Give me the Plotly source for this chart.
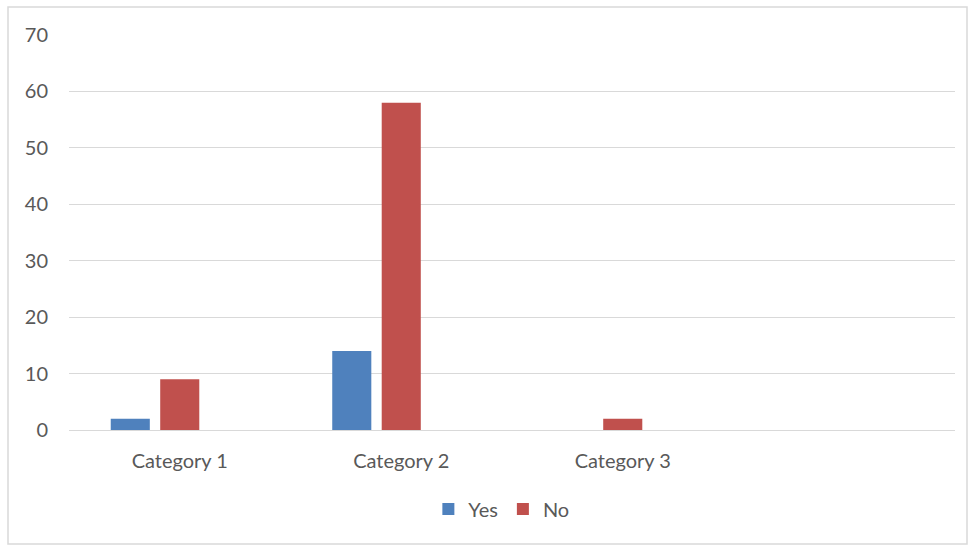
import plotly.graph_objects as go

categories = ["Category 1", "Category 2", "Category 3"]
yes_values = [2, 14, None]
no_values = [9, 58, 2]
hidden_values = [None, None, None]  # empty third series slot in the original
y_ticks = [0, 10, 20, 30, 40, 50, 60, 70]

W, H = 969, 546
L, R, T, B = 69, 14, 35, 116

font_family = "Lato, 'Open Sans', 'DejaVu Sans', sans-serif"
tick_color = "#595959"
grid_color = "#d9d9d9"

fig = go.Figure()
fig.add_trace(go.Bar(name="Yes", x=categories, y=yes_values, marker=dict(color="#4F81BD", line=dict(width=0))))
fig.add_trace(go.Bar(name="No", x=categories, y=no_values, marker=dict(color="#C0504D", line=dict(width=0))))
fig.add_trace(go.Bar(name="", x=categories, y=hidden_values, showlegend=False, marker=dict(color="rgba(0,0,0,0)")))

pw = W - L - R
ph = H - T - B

fig.update_layout(
    width=W, height=H,
    margin=dict(l=L, r=R, t=T, b=B, pad=0),
    paper_bgcolor="white", plot_bgcolor="white",
    barmode="group", bargap=0.33, bargroupgap=0.21,
    font=dict(family=font_family, size=20, color=tick_color),
    showlegend=True,
    legend=dict(orientation="h", x=0.488, xanchor="center", y=-0.2, yanchor="middle",
                font=dict(size=20, color=tick_color), itemwidth=30, traceorder="normal"),
    xaxis=dict(type="category", categoryorder="array", categoryarray=categories + [" "],
               range=[-0.5, 3.5], showgrid=False, showline=True, linecolor=grid_color, linewidth=1,
               ticks="", ticklabelstandoff=13, tickfont=dict(size=20, color=tick_color), fixedrange=True),
    yaxis=dict(range=[0, 70], tickvals=y_ticks, showgrid=True, gridcolor=grid_color, gridwidth=1,
               zeroline=False, showline=False, ticks="", ticklabelstandoff=20,
               tickfont=dict(size=20, color=tick_color), fixedrange=True),
    shapes=[dict(type="rect", xref="paper", yref="paper",
                 x0=(8 - L) / pw, x1=(967 - L) / pw,
                 y0=(H - B - 544) / ph, y1=(H - B - 7) / ph,
                 line=dict(color=grid_color, width=1.5), fillcolor="rgba(0,0,0,0)", layer="below")],
)

fig.write_html("out.html")
